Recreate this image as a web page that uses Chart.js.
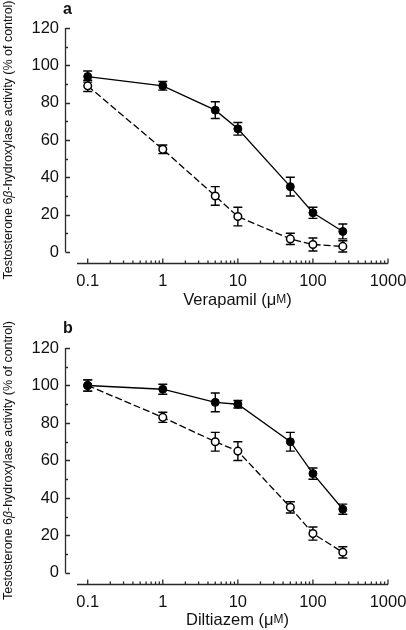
<!DOCTYPE html>
<html><head><meta charset="utf-8">
<script src="https://cdn.jsdelivr.net/npm/chart.js@4/dist/chart.umd.min.js"></script>
<style>
html,body{margin:0;padding:0;background:#fff;overflow:hidden;width:406px;height:630px}
canvas{position:absolute;left:0}
</style></head><body>
<canvas id="c1" style="top:0px"></canvas>
<canvas id="c2" style="top:306px"></canvas>
<script>
// ---- data ----
const concentrations = [0.1, 1, 5, 10, 50, 100, 250];
const verapamilFilled = [94, 89, 76, 66, 35, 21, 11];
const verapamilFilledErr = [3, 2.3, 4.5, 3.4, 5, 3, 4];
const verapamilOpen = [89, 55, 30, 19, 7, 4, 3];
const verapamilOpenErr = [3, 2.3, 5, 5, 3, 3.5, 3];
const diltiazemFilled = [100, 98, 91, 90, 70, 53, 34];
const diltiazemFilledErr = [3, 2.7, 5, 2, 5, 3, 2.7];
const diltiazemOpen = [100, 83, 70, 65, 35, 21, 11];
const diltiazemOpenErr = [3, 2.7, 5, 5, 3, 3.5, 3];
const xTickValues = [0.1, 1, 10, 100, 1000];
const yTickValues = [0, 20, 40, 60, 80, 100, 120];
const yMinorValues = [10, 30, 50, 70, 90, 110];
const yAxisTitleParts = [['Testosterone 6', false], ['\u03B2', true], ['-hydroxylase activity (% of control)', false]];

const FONT = "'Liberation Sans', Arial, Helvetica, sans-serif";
const AXIS_COLOR = '#2a2a2a';

function measureParts(ctx, parts) {
  return parts.map(p => { ctx.font = p[1]; return ctx.measureText(p[0]).width; });
}
function drawParts(ctx, parts, cx, cy, targetWidth) {
  const widths = measureParts(ctx, parts);
  const total = widths.reduce((a, b) => a + b, 0);
  const sx = targetWidth ? targetWidth / total : 1;
  ctx.save();
  ctx.translate(cx, cy);
  ctx.scale(sx, 1);
  let x = -total / 2;
  ctx.textAlign = 'left';
  parts.forEach((p, i) => { ctx.font = p[1]; ctx.fillText(p[0], x, 0); x += widths[i]; });
  ctx.restore();
}

const panelPlugin = {
  id: 'panel',
  beforeDatasetsDraw(chart, args, opts) {
    const ctx = chart.ctx, xs = chart.scales.x, ys = chart.scales.y;
    ctx.save();
    ctx.strokeStyle = '#000';
    ctx.lineWidth = 1.4;
    chart.data.datasets.forEach((ds, di) => {
      const errs = opts.errors[di];
      ds.data.forEach((pt, i) => {
        const px = xs.getPixelForValue(pt.x);
        const yTop = ys.getPixelForValue(pt.y + errs[i]);
        const yBot = ys.getPixelForValue(Math.max(pt.y - errs[i], 0));
        ctx.beginPath();
        ctx.moveTo(px, yTop); ctx.lineTo(px, yBot);
        ctx.moveTo(px - 4.5, yTop); ctx.lineTo(px + 4.5, yTop);
        ctx.moveTo(px - 4.5, yBot); ctx.lineTo(px + 4.5, yBot);
        ctx.stroke();
      });
    });
    ctx.restore();
  },
  afterDraw(chart, args, opts) {
    const ctx = chart.ctx, xs = chart.scales.x, ys = chart.scales.y, ca = chart.chartArea;
    ctx.save();
    ctx.strokeStyle = AXIS_COLOR;
    ctx.lineWidth = 1.3;
    // y axis
    const ax = 65.5;
    const y0 = ys.getPixelForValue(0), y120 = ys.getPixelForValue(120);
    ctx.beginPath();
    ctx.moveTo(ax, y120); ctx.lineTo(ax, y0);
    yTickValues.forEach(v => { const p = Math.round(ys.getPixelForValue(v)) + 0.5; ctx.moveTo(ax, p); ctx.lineTo(ax + 4.5, p); });
    yMinorValues.forEach(v => { const p = Math.round(ys.getPixelForValue(v)) + 0.5; ctx.moveTo(ax, p); ctx.lineTo(ax + 2.5, p); });
    ctx.stroke();
    // x axis
    const ay = Math.round(ca.bottom) + 0.5;
    ctx.beginPath();
    ctx.moveTo(ca.left, ay); ctx.lineTo(ca.right, ay);
    xTickValues.forEach(v => { const p = xs.getPixelForValue(v); ctx.moveTo(p, ay); ctx.lineTo(p, ay - 5); });
    for (let d = 0; d < xTickValues.length - 1; d++) {
      for (let m = 2; m <= 9; m++) {
        const p = xs.getPixelForValue(xTickValues[d] * m);
        ctx.moveTo(p, ay); ctx.lineTo(p, ay - 3);
      }
    }
    ctx.stroke();
    // titles
    ctx.fillStyle = '#111';
    ctx.textBaseline = 'middle';
    drawParts(ctx, [[opts.xTitle + ' (\u03BC', '16.5px ' + FONT], ['M', '12px ' + FONT], [')', '16.5px ' + FONT]], opts.xTitleX, opts.xTitleY);
    ctx.save();
    ctx.translate(8.5, (y120 + y0) / 2);
    ctx.rotate(-Math.PI / 2);
    drawParts(ctx, yAxisTitleParts.map(p => [p[0], (p[1] ? 'italic ' : '') + '13.5px ' + FONT]), 0, 0, 279);
    ctx.restore();
    ctx.textBaseline = 'alphabetic';
    ctx.textAlign = 'left';
    ctx.font = 'bold 16px ' + FONT;
    ctx.fillText(opts.letter, 63, opts.letterY);
    ctx.restore();
  }
};

function makePanel(canvasId, height, chartTop, chartBottom, filled, filledErr, open, openErr, xTitle, xTitleY, letter, letterY) {
  const cv = document.getElementById(canvasId);
  cv.width = 406; cv.height = height;
  cv.style.width = '406px'; cv.style.height = height + 'px';
  const ptsF = concentrations.map((c, i) => ({ x: c, y: filled[i] }));
  const ptsO = concentrations.map((c, i) => ({ x: c, y: open[i] }));
  return new Chart(cv, {
    type: 'scatter',
    data: {
      datasets: [
        { label: 'filled', data: ptsF, showLine: true, borderColor: '#000', borderWidth: 1.3,
          pointRadius: 4, pointBackgroundColor: '#000', pointBorderColor: '#000', pointBorderWidth: 1, tension: 0 },
        { label: 'open', data: ptsO, showLine: true, borderColor: '#000', borderWidth: 1.3, borderDash: [7, 3],
          pointRadius: 3.8, pointBackgroundColor: '#fff', pointBorderColor: '#000', pointBorderWidth: 1.5, tension: 0 }
      ]
    },
    options: {
      responsive: false,
      animation: false,
      devicePixelRatio: 1,
      layout: { padding: { left: 17, right: 18, top: chartTop, bottom: 0 } },
      plugins: {
        legend: { display: false },
        tooltip: { enabled: false },
        panel: { errors: [filledErr, openErr], xTitle: xTitle, xTitleX: 237.5, xTitleY: xTitleY, letter: letter, letterY: letterY }
      },
      scales: {
        x: {
          type: 'logarithmic', min: 0.072, max: 1000,
          afterBuildTicks: s => { s.ticks = xTickValues.map(v => ({ value: v })); },
          afterFit: s => { s.height = height - chartBottom; s.paddingLeft = 0; s.paddingRight = 0; },
          ticks: { callback: v => String(v), font: { family: FONT, size: 16.5 }, color: '#111', padding: 9, maxRotation: 0, autoSkip: false },
          grid: { display: false, drawTicks: false },
          border: { display: false }
        },
        y: {
          type: 'linear', min: -5.9, max: 120,
          afterBuildTicks: s => { s.ticks = yTickValues.map(v => ({ value: v })); },
          afterFit: s => { s.width = 60; s.paddingTop = 0; s.paddingBottom = 0; },
          ticks: { font: { family: FONT, size: 16.5 }, color: '#111', padding: 18 },
          grid: { display: false, drawTicks: false },
          border: { display: false }
        }
      }
    },
    plugins: [panelPlugin]
  });
}

makePanel('c1', 312, 28, 263, verapamilFilled, verapamilFilledErr, verapamilOpen, verapamilOpenErr, 'Verapamil', 300, 'a', 13.5);
makePanel('c2', 324, 42, 278, diltiazemFilled, diltiazemFilledErr, diltiazemOpen, diltiazemOpenErr, 'Diltiazem', 314, 'b', 27);
</script>
</body></html>
